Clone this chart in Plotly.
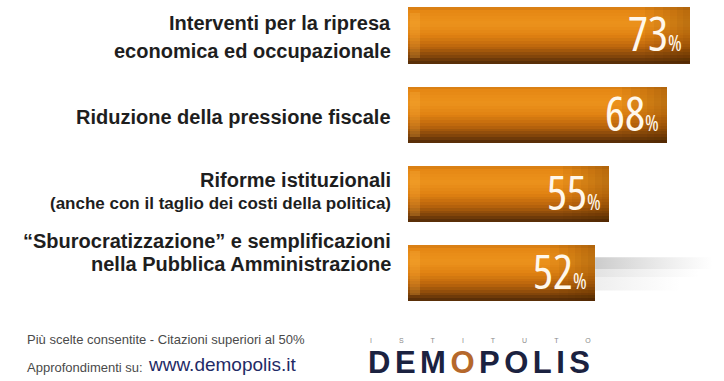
import numpy as np
import plotly.graph_objects as go

# Survey data: priorities for the government (multiple answers allowed)
label_line1 = [
    "Interventi per la ripresa",
    "Riduzione della pressione fiscale",
    "Riforme istituzionali",
    "\u201cSburocratizzazione\u201d e semplificazioni",
]
label_line2 = [
    "economica ed occupazionale",
    "",
    "(anche con il taglio dei costi della politica)",
    "nella Pubblica Amministrazione",
]
values = [73, 68, 55, 52]
positions = [0, 1, 2, 3]

footer_note = "Più scelte consentite - Citazioni superiori al 50%"
footer_link_prefix = "Approfondimenti su:"
footer_link = "www.demopolis.it"

W_PX, H_PX = 724, 381
BAR_W = 0.707          # bar thickness in category units
X_RANGE = [10.65, 80.5]
Y_RANGE = [3.594, -0.448]

# vertical shading of the cylinder-like bars (top -> bottom)
stops = [
    (0.00, (212, 124, 20)),
    (0.07, (230, 136, 20)),
    (0.30, (236, 146, 28)),
    (0.50, (224, 130, 18)),
    (0.70, (188, 102, 12)),
    (0.88, (128, 68, 10)),
    (1.00, (80, 42, 8)),
]


def shade(t):
    ts = [s[0] for s in stops]
    rgb = [np.interp(t, ts, [s[1][k] for s in stops]) for k in range(3)]
    return "rgb(%d,%d,%d)" % tuple(int(round(c)) for c in rgb)


fig = go.Figure()

n_strips = 20
strip = BAR_W / n_strips
for k in range(n_strips):
    fig.add_trace(go.Bar(
        x=values, y=positions, orientation="h",
        width=strip * 1.02, offset=-BAR_W / 2 + k * strip,
        marker=dict(color=shade((k + 0.5) / n_strips), line=dict(width=0)),
        hoverinfo="skip", showlegend=False,
    ))

# darker tone toward the right end of each bar
for depth in [10, 8, 6, 4.5, 3, 1.5]:
    fig.add_trace(go.Bar(
        x=[depth] * len(values), base=[v - depth for v in values], y=positions,
        orientation="h", width=BAR_W,
        marker=dict(color="rgba(70,30,0,0.05)", line=dict(width=0)),
        hoverinfo="skip", showlegend=False,
    ))

# light cap on the left end
fig.add_trace(go.Bar(
    x=[2.2] * len(values), base=[X_RANGE[0] + 0.4] * len(values), y=positions,
    orientation="h", width=BAR_W * 0.8,
    marker=dict(color="rgba(255,190,80,0.2)", line=dict(width=0)),
    hoverinfo="skip", showlegend=False,
))

# soft grey streak trailing the last bar
last = len(values) - 1
for y0, y1, alpha, length in [(-0.2, -0.05, 0.45, 26), (-0.05, 0.05, 0.25, 23), (0.05, 0.22, 0.15, 19)]:
    xs = [values[last], values[last] + length, values[last] + length, values[last]]
    ys = [positions[last] + y0, positions[last] + y0, positions[last] + y1, positions[last] + y1]
    fig.add_trace(go.Scatter(
        x=xs, y=ys, mode="lines", fill="toself", line=dict(width=0),
        fillgradient=dict(type="horizontal", colorscale=[
            [0, "rgba(140,140,140,%.2f)" % alpha], [1, "rgba(160,160,160,0)"]]),
        hoverinfo="skip", showlegend=False,
    ))

annotations = []
LABEL_X = 393 / W_PX
LABEL_FONT = "Liberation Sans, Arial"
for i, (l1, l2) in enumerate(zip(label_line1, label_line2)):
    if l2:
        shifts = {0: (12.5, -15.5), 2: (13.5, -10), 3: (31.5, 8.5)}[i]
        annotations.append(dict(xref="paper", yref="y", x=LABEL_X, y=positions[i], text=l1,
                                xanchor="right", yanchor="middle", yshift=shifts[0], showarrow=False,
                                font=dict(family=LABEL_FONT, size=20, color="#1e1e1e", weight="bold")))
        size2 = 17 if i == 2 else 20
        annotations.append(dict(xref="paper", yref="y", x=LABEL_X, y=positions[i], text=l2,
                                xanchor="right", yanchor="middle", yshift=shifts[1], showarrow=False,
                                font=dict(family=LABEL_FONT, size=size2, color="#1e1e1e", weight="bold")))
    else:
        annotations.append(dict(xref="paper", yref="y", x=LABEL_X, y=positions[i], text=l1,
                                xanchor="right", yanchor="middle", yshift=-2, showarrow=False,
                                font=dict(family=LABEL_FONT, size=20, color="#1e1e1e", weight="bold")))

# value labels inside the bar ends (condensed face)
for v, p in zip(values, positions):
    annotations.append(dict(
        xref="x", yref="y", x=v, y=p, xanchor="right", yanchor="middle", xshift=-6, yshift=2,
        text="<span style='font-stretch:condensed'>%d<span style='font-size:21px'>%%</span></span>" % v,
        showarrow=False,
        font=dict(family="Open Sans, Liberation Sans", size=47, color="#fff8ec"),
    ))

# footer
annotations += [
    dict(xref="paper", yref="paper", x=25 / W_PX, y=1 - 339 / H_PX, xanchor="left", yanchor="middle",
         text=footer_note, showarrow=False,
         font=dict(family="Liberation Sans, Arial", size=13, color="#4a4a4a")),
    dict(xref="paper", yref="paper", x=25 / W_PX, y=1 - 367 / H_PX, xanchor="left", yanchor="middle",
         text=footer_link_prefix, showarrow=False,
         font=dict(family="Liberation Sans, Arial", size=13, color="#4a4a4a")),
    dict(xref="paper", yref="paper", x=146 / W_PX, y=1 - 364 / H_PX, xanchor="left", yanchor="middle",
         text=footer_link, showarrow=False,
         font=dict(family="Liberation Sans, Arial", size=19, color="#1f2b66")),
    dict(xref="paper", yref="paper", x=368 / W_PX, y=1 - 340 / H_PX, xanchor="left", yanchor="middle",
         text="<span style='letter-spacing:27px'>ISTITUTO</span>", showarrow=False,
         font=dict(family="Liberation Sans, Arial", size=7, color="#8a8a8a")),
    dict(xref="paper", yref="paper", x=366 / W_PX, y=1 - 362 / H_PX, xanchor="left", yanchor="middle",
         text="<span style='letter-spacing:4.5px'>DEM<span style='color:#b5682c'>O</span>POLIS</span>",
         showarrow=False,
         font=dict(family="Liberation Sans, Arial", size=31, color="#1b2240", weight="bold")),
]

fig.update_layout(
    width=W_PX, height=H_PX,
    margin=dict(l=0, r=0, t=0, b=0),
    paper_bgcolor="white", plot_bgcolor="white",
    barmode="overlay", bargap=0,
    xaxis=dict(domain=[408 / W_PX, 1], range=X_RANGE, visible=False, fixedrange=True),
    yaxis=dict(domain=[1 - 320 / H_PX, 1], range=Y_RANGE, visible=False, fixedrange=True),
    annotations=annotations,
    showlegend=False,
)

fig.write_html("out.html")
